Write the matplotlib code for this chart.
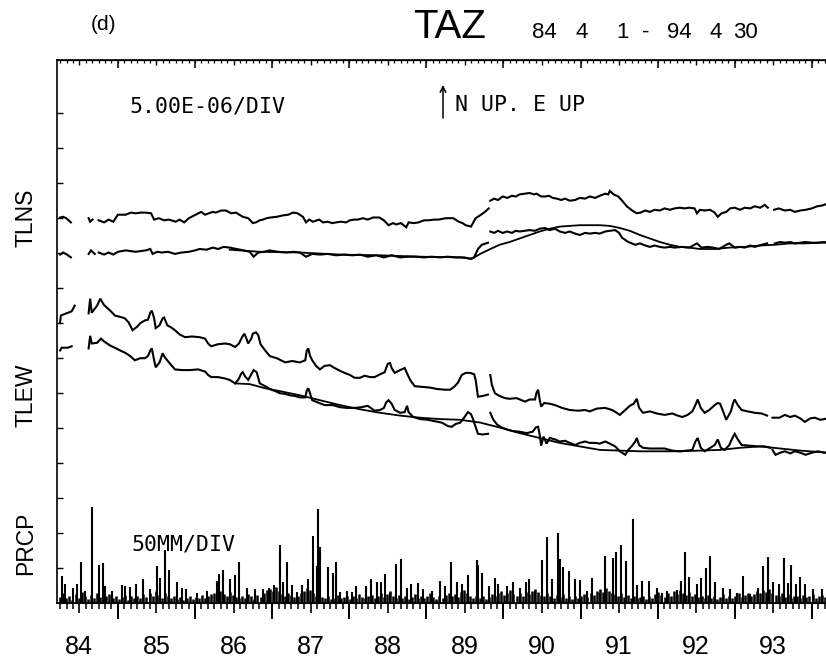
import numpy as np
import matplotlib
matplotlib.use("Agg")
import matplotlib.pyplot as plt

nan = np.nan
plt.rcParams['font.family'] = ['Liberation Sans', 'DejaVu Sans']

# Tilt records, station TAZ, 84 4 1 - 94 4 30  (values in 1e-6 rad, 5e-6 per division)
ns_raw_t = [84.25, 84.29, 84.33, 84.39, 84.50, 84.62, 84.64, 84.67, 84.71,
            84.75, 84.82, 84.88, 84.94, 85.00, 85.10, 85.17, 85.23, 85.30, 85.36,
            85.43, 85.47, 85.53, 85.60, 85.66, 85.75, 85.80, 85.86, 85.92, 86.01,
            86.08, 86.13, 86.18, 86.23, 86.27, 86.34, 86.40, 86.47, 86.53, 86.62,
            86.69, 86.75, 86.79, 86.84, 86.88, 86.93, 86.98, 87.06, 87.14, 87.21,
            87.27, 87.33, 87.40, 87.44, 87.48, 87.53, 87.61, 87.66, 87.72, 87.78,
            87.83, 87.89, 87.96, 88.01, 88.06, 88.11, 88.18, 88.24, 88.31, 88.39,
            88.45, 88.51, 88.57, 88.61, 88.67, 88.74, 88.77, 88.84, 88.90, 88.97,
            89.03, 89.10, 89.16, 89.25, 89.35, 89.42, 89.47, 89.51, 89.58, 89.64,
            89.71, 89.76, 89.81, 89.82,
            89.83, 89.88, 89.93, 89.99, 90.05, 90.11, 90.16, 90.21, 90.28, 90.34,
            90.40, 90.43, 90.49, 90.54, 90.59, 90.64, 90.69, 90.75, 90.80, 90.86,
            90.93, 90.99, 91.06, 91.12, 91.19, 91.25, 91.32, 91.36, 91.38, 91.43,
            91.49, 91.54, 91.60, 91.67, 91.73, 91.78, 91.84, 91.90, 91.96, 92.03,
            92.09, 92.16, 92.22, 92.29, 92.35, 92.41, 92.48, 92.51, 92.55, 92.61,
            92.68, 92.74, 92.78, 92.83, 92.89, 92.94, 93.00, 93.07, 93.13, 93.20,
            93.26, 93.33, 93.39, 93.43, 93.47,
            93.51, 93.57, 93.65, 93.72, 93.78, 93.85, 93.92, 94.00, 94.07, 94.13, 94.21]
ns_raw_v = [0.0, 0.1, -0.1, -0.7, nan, -0.1, -0.6, -0.3, nan,
            -0.4, -0.7, -0.3, -0.6, 0.4, 0.4, 0.7, 0.6, 0.7, 0.7,
            0.6, -0.3, -0.1, -0.4, -0.3, -0.6, -0.3, -0.7, -0.1, 0.4,
            0.8, 0.4, 0.6, 0.8, 0.7, 1.0, 1.0, 0.6, 0.7, 0.1,
            -0.1, -0.8, -0.7, -0.4, -0.3, -0.1, 0.0, 0.1, 0.3, 0.4,
            0.7, 0.6, 0.1, -0.7, -0.3, -0.6, -0.3, -0.7, -0.6, -0.8,
            -0.7, -0.6, -0.7, -0.4, -0.3, -0.3, -0.1, -0.3, 0.0, 0.0,
            -0.4, -1.1, -0.8, -1.0, -0.8, -1.4, -0.7, -0.8, -0.7, -0.4,
            -0.4, -0.3, -0.3, -0.1, -0.1, -0.6, -0.8, -1.1, -1.3, -0.1,
            0.4, 0.8, 1.3, nan,
            2.4, 2.7, 2.5, 3.0, 2.8, 3.1, 3.0, 3.3, 3.4, 3.5,
            3.3, 3.4, 3.0, 3.0, 3.1, 2.8, 2.7, 2.5, 2.7, 2.4,
            2.5, 2.8, 2.7, 3.0, 2.8, 3.1, 3.4, 3.3, 3.8, 3.3,
            3.0, 2.4, 1.6, 1.0, 0.6, 0.7, 1.0, 0.8, 1.1, 1.0,
            1.3, 1.1, 1.3, 1.4, 1.3, 1.4, 1.3, 0.6, 1.1, 1.0,
            1.1, 0.7, 0.1, 0.6, 0.8, 1.3, 1.4, 1.1, 1.4, 1.3,
            1.6, 1.4, 1.8, 1.4, nan,
            1.1, 1.3, 1.0, 1.1, 0.8, 1.0, 1.1, 1.3, 1.6, 1.7, 2.0]

ns_cor_t = [84.25, 84.29, 84.34, 84.39, 84.50, 84.62, 84.65, 84.70, 84.72,
            84.75, 84.82, 84.88, 84.94, 85.00, 85.10, 85.23, 85.36, 85.42, 85.45,
            85.51, 85.57, 85.65, 85.74, 85.83, 85.92, 86.00, 86.06, 86.15, 86.23,
            86.30, 86.37, 86.45, 86.54, 86.63, 86.71, 86.76, 86.82, 86.89, 86.97,
            87.08, 87.18, 87.28, 87.36, 87.44, 87.52, 87.62, 87.72, 87.83, 87.93,
            88.04, 88.14, 88.24, 88.35, 88.45, 88.55, 88.66, 88.76, 88.87, 88.97,
            89.07, 89.18, 89.28, 89.38, 89.49, 89.57, 89.62, 89.67, 89.72, 89.80, 89.815,
            89.83, 89.88, 89.93, 89.99, 90.05, 90.11, 90.16, 90.21, 90.28, 90.34,
            90.41, 90.47, 90.54, 90.60, 90.67, 90.73, 90.80, 90.86, 90.93, 90.99,
            91.06, 91.12, 91.19, 91.25, 91.32, 91.38, 91.45, 91.50, 91.54, 91.62,
            91.71, 91.77, 91.84, 91.90, 91.96, 92.03, 92.09, 92.16, 92.22, 92.32,
            92.41, 92.51, 92.57, 92.65, 92.72, 92.80, 92.89, 92.93, 93.00, 93.07,
            93.13, 93.20, 93.26, 93.35, 93.42, 93.47,
            93.52, 93.59, 93.65, 93.72, 93.78, 93.85, 93.92, 94.00, 94.08, 94.16, 94.21]
ns_cor_v = [0.0, 0.3, 0.0, -0.4, nan, 0.1, 0.6, 0.1, nan,
            0.3, 0.0, 0.3, 0.0, 0.4, 0.6, 0.4, 0.6, 0.8, 0.1,
            0.4, 0.3, 0.4, 0.1, 0.3, 0.4, 0.6, 0.8, 0.7, 1.0,
            0.8, 1.1, 1.0, 0.8, 0.6, 0.4, -0.3, 0.3, 0.4, 0.6,
            0.4, 0.3, 0.4, 0.3, -0.3, 0.1, 0.0, 0.1, -0.1, 0.0,
            -0.1, 0.0, -0.3, -0.1, -0.4, -0.1, -0.4, -0.3, -0.3, -0.4,
            -0.3, -0.4, -0.3, -0.4, -0.4, -0.6, -0.4, 0.8, 1.4, 1.7, nan,
            3.3, 3.1, 3.4, 3.1, 3.3, 3.1, 3.4, 3.3, 3.4, 3.5,
            3.4, 3.7, 3.8, 3.5, 3.7, 3.3, 3.1, 3.3, 3.0, 2.8,
            3.1, 3.0, 3.1, 3.0, 3.3, 3.4, 3.5, 3.1, 2.4, 1.8,
            1.4, 1.6, 1.3, 1.1, 1.3, 1.1, 1.0, 1.1, 1.0, 1.1,
            1.0, 1.6, 1.0, 1.1, 1.0, 0.8, 1.4, 1.6, 1.0, 1.1,
            1.0, 1.3, 1.1, 1.4, 1.6, nan,
            1.6, 1.8, 1.7, 1.8, 1.6, 1.7, 1.8, 1.7, 1.7, 1.8, 1.7]

ns_fit_t = [86.45, 86.84, 87.36, 87.88, 88.40, 88.92, 89.44,
            89.59, 89.70, 89.83, 89.95, 90.08, 90.21, 90.34, 90.47, 90.60, 90.73,
            90.86, 90.99, 91.12, 91.25, 91.38, 91.51, 91.64, 91.77, 91.90, 92.03,
            92.16, 92.29, 92.41, 92.55, 92.74, 92.93, 93.13, 93.33, 93.52, 93.71,
            93.91, 94.11, 94.21]
ns_fit_v = [0.7, 0.4, 0.3, 0.0, -0.1, -0.3, -0.4,
            -0.6, 0.1, 0.8, 1.4, 1.8, 2.3, 2.8, 3.3, 3.7, 4.0,
            4.1, 4.2, 4.2, 4.2, 4.1, 3.8, 3.4, 2.8, 2.3, 1.8,
            1.4, 1.1, 1.0, 0.8, 0.8, 1.0, 1.1, 1.3, 1.4, 1.6,
            1.6, 1.7, 1.7]

ew_raw_t = [84.25, 84.26, 84.33, 84.40, 84.44, 84.53, 84.62, 84.64, 84.66, 84.73,
            84.77, 84.82, 84.90, 84.96, 85.03, 85.09, 85.14, 85.19, 85.25, 85.29,
            85.35, 85.39, 85.42, 85.44, 85.47, 85.49, 85.54, 85.58, 85.60, 85.64,
            85.69, 85.74, 85.80, 85.87, 85.96, 86.06, 86.13, 86.17, 86.21, 86.30,
            86.39, 86.45, 86.52, 86.57, 86.61, 86.64, 86.66, 86.69, 86.73, 86.75,
            86.79, 86.82, 86.85, 86.91, 86.97, 87.06, 87.17, 87.26, 87.36, 87.43,
            87.45, 87.47, 87.49, 87.52, 87.57, 87.62, 87.68, 87.75, 87.81, 87.88,
            87.94, 88.01, 88.07, 88.14, 88.20, 88.27, 88.33, 88.40, 88.46, 88.50,
            88.53, 88.55, 88.59, 88.66, 88.72, 88.76, 88.79, 88.85, 88.95, 89.05,
            89.14, 89.24, 89.31, 89.37, 89.41, 89.46, 89.51, 89.57, 89.62, 89.64,
            89.67, 89.73, 89.80, 89.815, 89.83, 89.85, 89.89, 89.95, 90.02, 90.08,
            90.17, 90.28, 90.34, 90.41, 90.43, 90.45, 90.47, 90.49, 90.53, 90.60,
            90.67, 90.76, 90.86, 90.97, 91.06, 91.12, 91.21, 91.32, 91.41, 91.47,
            91.51, 91.58, 91.64, 91.69, 91.73, 91.76, 91.81, 91.90, 91.99, 92.09,
            92.19, 92.26, 92.32, 92.39, 92.45, 92.49, 92.52, 92.56, 92.61, 92.67,
            92.74, 92.78, 92.81, 92.85, 92.89, 92.95, 92.98, 93.00, 93.04, 93.09,
            93.17, 93.26, 93.35, 93.42, 93.46, 93.49, 93.58, 93.65, 93.72, 93.78,
            93.85, 93.91, 93.98, 94.04, 94.11, 94.21]
ew_raw_v = [0.0, 1.0, 1.3, 1.6, 2.4, nan, 1.3, 3.4, 1.4, 2.4,
            3.4, 2.5, 1.7, 1.0, 0.8, 0.6, 0.0, -1.1, -0.6, -0.1,
            0.3, 0.4, 1.4, 1.7, 0.6, -0.8, -0.4, 0.6, 0.7, -0.4,
            -0.7, -1.1, -1.7, -2.1, -2.0, -2.1, -2.3, -3.0, -3.4, -3.1,
            -3.0, -3.1, -3.5, -3.0, -2.1, -1.6, -2.1, -3.0, -2.3, -1.6,
            -1.4, -1.8, -3.1, -4.0, -4.8, -5.1, -5.7, -5.5, -5.7, -5.4,
            -4.0, -3.7, -4.7, -5.4, -6.2, -6.7, -6.2, -6.1, -6.5, -6.9,
            -7.2, -7.5, -7.9, -7.9, -7.6, -7.8, -7.8, -7.4, -7.1, -5.9,
            -5.8, -6.5, -7.2, -6.8, -6.5, -7.5, -8.2, -9.1, -9.2, -9.3,
            -9.5, -9.6, -9.6, -9.1, -8.6, -7.5, -7.2, -7.2, -7.4, -8.2,
            -10.6, -10.5, -10.3, nan, -7.5, -8.9, -10.1, -10.5, -10.8, -10.9,
            -10.8, -11.3, -11.0, -11.0, -10.0, -9.6, -11.0, -12.0, -11.5, -11.6,
            -11.8, -12.2, -12.5, -12.6, -12.5, -12.7, -12.3, -12.2, -12.5, -12.9,
            -13.2, -12.5, -11.9, -11.6, -10.9, -12.2, -12.9, -12.7, -13.0, -13.2,
            -13.0, -13.3, -13.5, -13.2, -12.7, -11.8, -11.0, -12.2, -12.9, -12.5,
            -11.8, -11.5, -11.6, -12.7, -13.9, -12.7, -11.5, -11.0, -11.8, -12.5,
            -12.7, -12.9, -13.0, -13.3, nan, -13.6, -13.6, -13.2, -13.5, -13.3,
            -13.7, -14.2, -13.7, -13.6, -13.9, -13.7]

ew_cor_t = [84.25, 84.27, 84.35, 84.40, 84.53, 84.62, 84.64, 84.66, 84.73, 84.78,
            84.82, 84.90, 84.96, 85.03, 85.09, 85.16, 85.22, 85.29, 85.35, 85.39,
            85.42, 85.44, 85.47, 85.49, 85.54, 85.58, 85.61, 85.67, 85.74, 85.83,
            85.93, 86.04, 86.13, 86.17, 86.21, 86.30, 86.39, 86.45, 86.52, 86.56,
            86.60, 86.62, 86.65, 86.69, 86.73, 86.76, 86.80, 86.84, 86.91, 86.97,
            87.04, 87.10, 87.17, 87.23, 87.30, 87.36, 87.43, 87.45, 87.47, 87.49,
            87.52, 87.59, 87.68, 87.79, 87.88, 87.97, 88.07, 88.16, 88.24, 88.33,
            88.40, 88.45, 88.48, 88.51, 88.55, 88.59, 88.66, 88.72, 88.75, 88.77,
            88.83, 88.92, 89.02, 89.11, 89.20, 89.28, 89.33, 89.38, 89.44, 89.49,
            89.54, 89.58, 89.61, 89.63, 89.67, 89.73, 89.80, 89.815, 89.83, 89.87,
            89.92, 89.98, 90.05, 90.12, 90.21, 90.30, 90.38, 90.42, 90.45, 90.47,
            90.49, 90.52, 90.56, 90.60, 90.67, 90.73, 90.80, 90.86, 90.93, 90.99,
            91.06, 91.12, 91.19, 91.25, 91.32, 91.38, 91.45, 91.51, 91.58, 91.62,
            91.67, 91.71, 91.73, 91.76, 91.81, 91.90, 91.99, 92.09, 92.19, 92.29,
            92.38, 92.45, 92.49, 92.52, 92.56, 92.61, 92.67, 92.74, 92.78, 92.82,
            92.87, 92.93, 92.97, 93.00, 93.04, 93.09, 93.20, 93.30, 93.39, 93.46,
            93.475, 93.49, 93.53, 93.59, 93.65, 93.72, 93.78, 93.85, 93.92, 94.00,
            94.08, 94.16, 94.21]
ew_cor_v = [0.0, 0.4, 0.4, 0.6, nan, 0.3, 2.1, 1.0, 1.1, 1.7,
            1.3, 0.7, 0.4, 0.0, -0.3, -0.8, -1.4, -1.1, -1.1, -0.8,
            0.0, 0.3, -1.4, -2.4, -1.7, -0.4, -1.0, -1.8, -2.7, -2.8,
            -2.8, -2.7, -3.0, -3.5, -3.8, -3.8, -4.0, -4.2, -4.7, -4.2,
            -3.3, -3.1, -3.7, -4.2, -3.4, -2.8, -3.1, -4.7, -5.1, -5.5,
            -5.8, -6.1, -6.2, -6.4, -6.5, -6.7, -6.7, -5.7, -5.4, -6.1,
            -7.1, -7.4, -7.8, -7.8, -8.1, -8.2, -8.2, -8.1, -7.9, -8.6,
            -8.5, -8.2, -7.4, -7.1, -7.6, -8.5, -8.9, -8.8, -7.9, -8.8,
            -9.5, -9.8, -9.9, -10.1, -10.3, -10.8, -10.9, -10.5, -10.3, -9.6,
            -8.8, -9.1, -9.9, -10.6, -11.9, -12.0, -11.9, nan, -8.9, -9.9,
            -10.6, -11.0, -11.3, -11.5, -11.6, -11.8, -11.6, -11.0, -10.9, -12.0,
            -13.6, -12.3, -13.3, -12.5, -12.7, -13.0, -12.9, -13.2, -13.5, -13.2,
            -13.0, -13.2, -13.2, -13.3, -13.0, -13.3, -13.7, -14.4, -14.9, -14.2,
            -13.6, -13.0, -12.5, -13.5, -13.9, -14.0, -14.0, -14.0, -14.3, -14.4,
            -14.3, -14.2, -13.0, -12.5, -13.9, -14.4, -14.0, -13.5, -12.7, -13.9,
            -14.2, -13.5, -12.5, -11.9, -12.7, -13.5, -13.6, -13.7, -13.7, -13.9,
            nan, -14.2, -14.9, -14.6, -14.4, -14.7, -14.4, -14.6, -14.9, -14.6,
            -14.4, -14.6, -14.6]

ew_fit_t = [86.52, 86.71, 86.91, 87.10, 87.36, 87.62, 87.88, 88.14, 88.40, 88.66,
            88.92, 89.18, 89.44, 89.70, 89.95, 90.21, 90.47, 90.73, 90.99, 91.25,
            91.51, 91.77, 92.03, 92.29, 92.55, 92.81, 93.07, 93.33, 93.59, 93.85, 94.21]
ew_fit_v = [-4.7, -4.8, -5.4, -5.8, -6.4, -7.1, -7.8, -8.4, -8.9, -9.3,
            -9.6, -9.8, -9.9, -10.3, -11.0, -11.8, -12.5, -13.2, -13.7, -14.2,
            -14.3, -14.4, -14.4, -14.4, -14.3, -14.2, -13.9, -13.7, -14.0, -14.3, -14.6]

# Daily precipitation, mm (50 mm per division): larger events
rain_t = [84.27, 84.31, 84.42, 84.47, 84.52, 84.57, 84.66, 84.75, 84.81, 84.83,
          84.92, 85.05, 85.09, 85.16, 85.23, 85.32, 85.41, 85.51, 85.54, 85.61,
          85.66, 85.77, 85.83, 85.88, 86.02, 86.15, 86.28, 86.31, 86.36, 86.45,
          86.52, 86.57, 86.67, 86.78, 86.88, 86.96, 87.02, 87.10, 87.14, 87.19,
          87.26, 87.32, 87.39, 87.46, 87.53, 87.58, 87.59, 87.62, 87.72, 87.79,
          87.83, 87.88, 87.97, 88.04, 88.09, 88.22, 88.28, 88.36, 88.41, 88.46,
          88.53, 88.61, 88.67, 88.75, 88.80, 88.89, 88.96, 89.07, 89.18, 89.24,
          89.32, 89.40, 89.46, 89.54, 89.66, 89.67, 89.72, 89.81, 89.89, 89.93,
          90.05, 90.12, 90.21, 90.29, 90.33, 90.41, 90.50, 90.56, 90.63, 90.71,
          90.73, 90.77, 90.85, 90.93, 90.99, 91.08, 91.15, 91.25, 91.32, 91.42,
          91.46, 91.52, 91.59, 91.68, 91.73, 91.80, 91.89, 91.99, 92.06, 92.12,
          92.25, 92.30, 92.35, 92.41, 92.51, 92.56, 92.63, 92.68, 92.74, 92.85,
          92.94, 93.03, 93.11, 93.20, 93.30, 93.37, 93.43, 93.50, 93.57, 93.64,
          93.69, 93.73, 93.79, 93.85, 93.91, 94.01, 94.13]
rain_mm = [38, 26, 21, 27, 58, 17, 137, 54, 57, 24,
           17, 25, 24, 22, 27, 33, 20, 52, 35, 75,
           47, 30, 21, 20, 14, 16, 31, 41, 47, 33,
           40, 58, 21, 20, 19, 21, 25, 82, 30, 58,
           25, 15, 25, 33, 95, 52, 133, 80, 51, 42,
           58, 15, 17, 15, 24, 24, 34, 30, 29, 41,
           14, 55, 62, 21, 26, 28, 19, 17, 31, 24,
           58, 29, 26, 40, 61, 54, 42, 24, 35, 26,
           24, 30, 21, 30, 34, 17, 61, 93, 34, 99,
           62, 51, 45, 33, 32, 17, 35, 14, 66, 64,
           72, 82, 59, 120, 25, 31, 31, 21, 13, 16,
           18, 31, 72, 37, 26, 35, 50, 66, 29, 21,
           19, 14, 38, 12, 21, 52, 65, 29, 27, 64,
           28, 53, 27, 37, 27, 19, 19]

# small daily amounts, one reading every 0.04 yr from 84.25
drizzle_mm = [8, 14, 6, 10, 4, 12, 7, 15, 9, 5, 11, 6, 13, 8, 4, 9, 12, 6, 10, 5, 8, 11, 4, 9, 7,
              10, 6, 12, 8, 14, 9, 16, 11, 7, 13, 10, 6, 9, 5, 8, 4, 7, 10, 5, 8, 6, 11, 7, 9, 12,
              14, 10, 16, 12, 9, 15, 11, 8, 6, 10, 7, 12, 9, 5, 11, 8, 13, 18, 20, 16, 22, 17, 12, 9, 14,
              11, 8, 10, 13, 16, 21, 18, 14, 10, 12, 8, 6, 9, 5, 7, 11, 6, 8, 10, 5, 9, 7, 12, 8, 6,
              9, 11, 7, 10, 14, 8, 12, 16, 10, 7, 11, 6, 9, 5, 8, 12, 7, 10, 6, 9, 13, 8, 5, 10, 7,
              11, 14, 9, 12, 8, 15, 18, 14, 10, 7, 9, 6, 10, 5, 8, 12, 9, 13, 16, 11, 14, 18, 12, 9, 13,
              10, 15, 12, 17, 20, 15, 11, 9, 13, 10, 7, 11, 8, 12, 6, 9, 5, 10, 7, 9, 12, 8, 14, 11, 16,
              19, 15, 21, 17, 14, 12, 10, 13, 8, 11, 7, 9, 6, 8, 10, 5, 9, 7, 12, 15, 11, 8, 13, 10, 16,
              12, 18, 14, 11, 15, 9, 12, 8, 10, 6, 11, 7, 9, 5, 8, 12, 6, 10, 7, 9, 13, 8, 11, 14, 10,
              12, 16, 13, 18, 15, 20, 14, 11, 9, 13, 8, 12, 7, 10, 9, 6, 11, 8, 10, 12, 7, 9, 11, 8, 10]
drizzle_t = 84.25 + 0.04 * np.arange(len(drizzle_mm))

year_labels = ['84', '85', '86', '87', '88', '89', '90', '91', '92', '93']

# plot layout (divisions from the bottom of the frame)
UNIT = 5.0        # 1e-6 per division
MM_DIV = 50.0     # mm per division
NS_RAW_Y, NS_COR_Y = 11.0, 9.94
EW_RAW_Y, EW_COR_Y = 8.0, 7.2

fig = plt.figure(figsize=(8.26, 6.66), dpi=100)
ax = fig.add_axes([57 / 826, 1 - 602.5 / 666, (828 - 57) / 826, (602.5 - 60) / 666])
ax.set_xlim(84.21, 94.21)
ax.set_ylim(0, 15.5)

def trace(t, v, base, lw=1.5):
    ax.plot(np.array(t), base + np.array(v, dtype=float) / UNIT, color='k', lw=lw,
            solid_joinstyle='miter')

trace(ns_raw_t, ns_raw_v, NS_RAW_Y)
trace(ns_cor_t, ns_cor_v, NS_COR_Y)
trace(ns_fit_t, ns_fit_v, NS_COR_Y, lw=1.3)
trace(ew_raw_t, ew_raw_v, EW_RAW_Y)
trace(ew_cor_t, ew_cor_v, EW_COR_Y)
trace(ew_fit_t, ew_fit_v, EW_COR_Y, lw=1.3)

ax.vlines(drizzle_t, 0, np.array(drizzle_mm) / MM_DIV, color='k', lw=1.8)
ax.vlines(rain_t, 0, np.array(rain_mm) / MM_DIV, color='k', lw=1.5)

# frame and ticks
for s in ['left', 'top', 'bottom']:
    ax.spines[s].set_linewidth(1.2)
ax.spines['right'].set_visible(False)

months = [84 + k / 12 for k in range(3, 123)]
mid_years = [y + 0.5 for y in range(84, 94)]
years = list(range(85, 95))

ax.set_xticks(mid_years)
ax.set_xticklabels(year_labels)
ax.set_xticks(months, minor=True)
ax.tick_params(axis='x', which='major', direction='out', length=7.2, width=1.2,
               pad=16, labelsize=18)
ax.tick_params(axis='x', which='minor', direction='out', length=4.3, width=1.1)
ax.set_yticks(range(1, 15))
ax.tick_params(axis='y', direction='in', length=4.5, width=1.0, labelleft=False)

bot = ax.secondary_xaxis('bottom')
bot.set_xticks(years)
bot.tick_params(direction='out', length=11.5, width=1.4, labelbottom=False)

top = ax.secondary_xaxis('top')
top.set_xticks(mid_years)
top.set_xticks(months, minor=True)
top.tick_params(which='major', direction='in', length=3.8, width=1.0, labeltop=False)
top.tick_params(which='minor', direction='in', length=2.4, width=0.9)
top2 = ax.secondary_xaxis('top')
top2.set_xticks(years)
top2.tick_params(direction='in', length=5.5, width=1.1, labeltop=False)

# texts
W, H = 826, 666
def fx(x): return x / W
def fy(y): return 1 - y / H

fig.text(fx(103), fy(24), '(d)', fontsize=15, ha='center', va='center')
fig.text(fx(413), fy(38), 'TAZ', fontsize=29, ha='left', va='baseline')
# date range, spaced out as on the plotter
for tok, x in [('84', 532), ('4', 575), ('1', 616), ('-', 642), ('94', 667), ('4', 710), ('30', 733)]:
    fig.text(fx(x), fy(38), tok, fontsize=16, ha='left', va='baseline')

mono = 'DejaVu Sans Mono'
fig.text(fx(207), fy(106), '5.00E-06/DIV', fontsize=15.5, family=mono, ha='center', va='center')
fig.text(fx(455), fy(105), 'N UP. E UP', fontsize=15.5, family=mono, ha='left', va='center')
ax.annotate('', xy=(fx(443), fy(85)), xytext=(fx(443), fy(118)), xycoords='figure fraction',
            arrowprops=dict(arrowstyle='->', lw=1.1, color='k', shrinkA=0, shrinkB=0))
fig.text(fx(183), fy(545), '50MM/DIV', fontsize=15.5, family=mono, ha='center', va='center')

for name, yc in [('TLNS', 218), ('TLEW', 395), ('PRCP', 543)]:
    fig.text(fx(26), fy(yc), name, fontsize=16.5, rotation=90, ha='center', va='center')

fig.savefig('out.png', dpi=100, facecolor='white')
